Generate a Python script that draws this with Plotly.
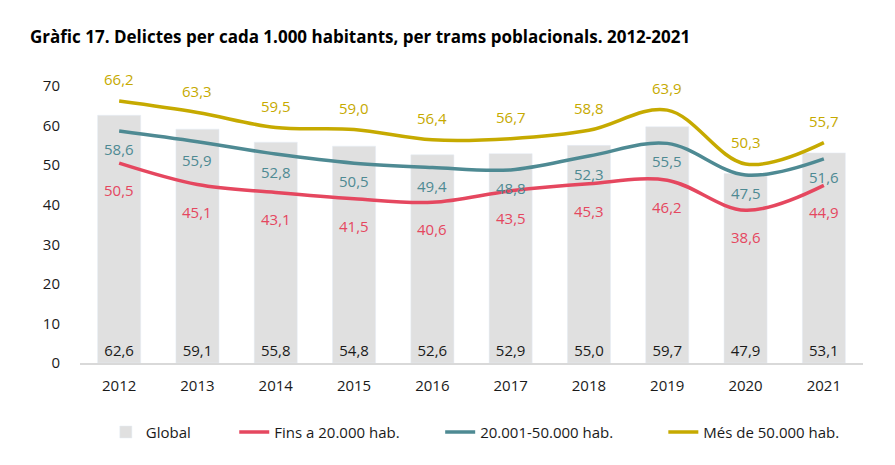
import plotly.graph_objects as go

years = ["2012", "2013", "2014", "2015", "2016", "2017", "2018", "2019", "2020", "2021"]
global_vals = [62.6, 59.1, 55.8, 54.8, 52.6, 52.9, 55.0, 59.7, 47.9, 53.1]
fins20 = [50.5, 45.1, 43.1, 41.5, 40.6, 43.5, 45.3, 46.2, 38.6, 44.9]
mid = [58.6, 55.9, 52.8, 50.5, 49.4, 48.8, 52.3, 55.5, 47.5, 51.6]
mes50 = [66.2, 63.3, 59.5, 59.0, 56.4, 56.7, 58.8, 63.9, 50.3, 55.7]

C_BAR = "#E0E0E0"
C_RED = "#E5475F"
C_TEAL = "#4E8A93"
C_YEL = "#C6AA00"
FONT = "Open Sans"

xs = list(range(len(years)))

def fmt(v):
    return f"{v:.1f}".replace(".", ",")

fig = go.Figure()
fig.add_trace(go.Bar(
    x=xs, y=global_vals, name="Global", marker_color=C_BAR, legend="legend",
    width=0.55, text=[fmt(v) for v in global_vals], textposition="inside",
    insidetextanchor="start", textfont=dict(color="#1a1a1a", size=15, family=FONT),
    textangle=0, cliponaxis=False,
))
for name, vals, col, lg in [("Fins a 20.000 hab.", fins20, C_RED, "legend2"),
                            ("20.001-50.000 hab.", mid, C_TEAL, "legend3"),
                            ("Més de 50.000 hab.", mes50, C_YEL, "legend4")]:
    fig.add_trace(go.Scatter(
        x=xs, y=vals, name=name, mode="lines", cliponaxis=False, legend=lg,
        line=dict(color=col, width=3.5, shape="spline", smoothing=1.0),
    ))

annotations = []
for vals, col, shift in [(fins20, C_RED, -27), (mid, C_TEAL, -18), (mes50, C_YEL, 22)]:
    for x, v in zip(xs, vals):
        annotations.append(dict(x=x, y=v, xref="x", yref="y", text=fmt(v), showarrow=False, yshift=shift,
                                font=dict(color=col, size=15, family=FONT)))

annotations.append(dict(xref="paper", yref="paper", x=-0.066, y=1.18, xanchor="left", yanchor="middle",
                        text="<b>Gràfic 17. Delictes per cada 1.000 habitants, per trams poblacionals. 2012-2021</b>",
                        showarrow=False, font=dict(size=17, color="#000000", family=FONT)))

def leg(x):
    return dict(orientation="h", x=x, xanchor="left", y=-0.25, yanchor="middle",
                font=dict(size=15, color="#1a1a1a"), bgcolor="rgba(0,0,0,0)")

fig.update_layout(
    width=895, height=465,
    margin=dict(l=72, r=40, t=78, b=110),
    plot_bgcolor="white", paper_bgcolor="white",
    font=dict(family=FONT, size=15, color="#1a1a1a"),
    showlegend=True,
    legend=leg(0.033), legend2=leg(0.197), legend3=leg(0.460), legend4=leg(0.745),
    annotations=annotations,
)
fig.update_xaxes(range=[-0.5, len(years) - 0.5], tickvals=xs, ticktext=years,
                 showgrid=False, showline=True, linecolor="#D9D9D9", linewidth=2, zeroline=False,
                 ticks="outside", ticklen=8, tickcolor="rgba(0,0,0,0)", tickfont=dict(size=15))
fig.update_yaxes(range=[0, 70], dtick=10, showgrid=False, zeroline=False, showline=False,
                 ticks="outside", ticklen=16, tickcolor="rgba(0,0,0,0)", tickfont=dict(size=15))

fig.write_html("out.html")
